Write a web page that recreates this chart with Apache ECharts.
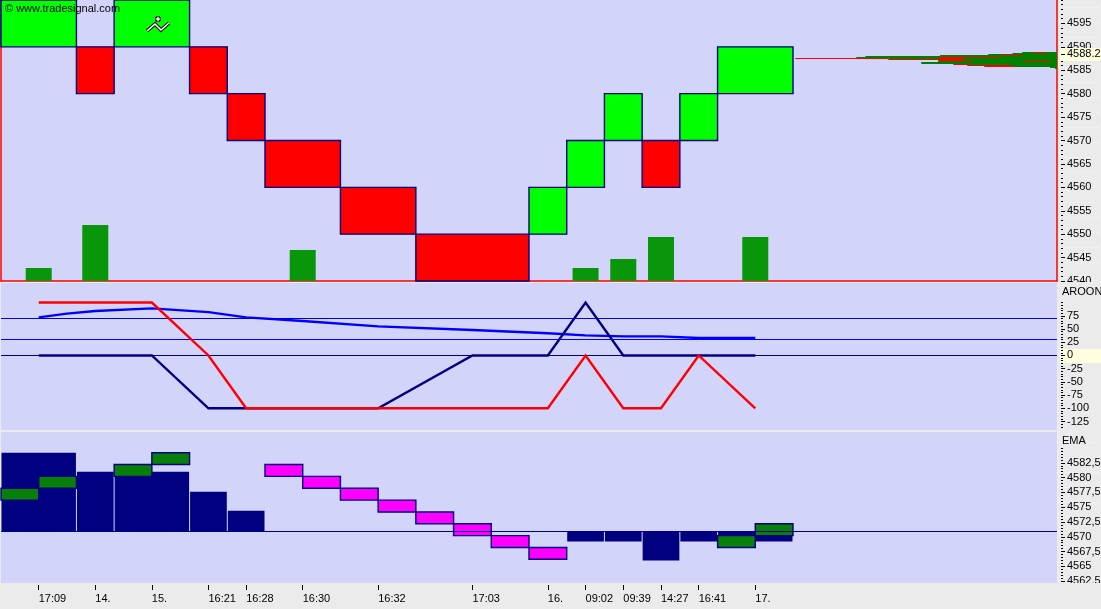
<!DOCTYPE html>
<html><head><meta charset="utf-8">
<script src="https://cdn.jsdelivr.net/npm/echarts@6/dist/echarts.min.js"></script>
<style>
html,body{margin:0;padding:0;width:1101px;height:609px;overflow:hidden;
background-color:#ebebeb;
background-image:url("data:image/svg+xml,%3Csvg xmlns='http://www.w3.org/2000/svg' width='4' height='15'%3E%3Crect x='1' y='7' width='1' height='1' fill='%23ffffff'/%3E%3C/svg%3E");}
#c{width:1101px;height:609px}
</style></head><body><div id="c"></div>
<script>
// --- x axis ticks (bar positions on the renko time axis)
const timeTickPos = [1,2.5,4,5.5,6.5,8,10,12.5,14.5,15.5,16.5,17.5,18.5,20];
const timeTickLabels = ['17:09','14.','15.','16:21','16:28','16:30','16:32','17:03','16.','09:02','09:39','14:27','16:41','17.'];
// --- renko price boxes
const renkoStart = [0,2,3,5,6,7,9,11,14,15,16,17,18,19];
const renkoEnd   = [2,3,5,6,7,9,11,14,15,16,17,18,19,21];
const renkoLow   = [4590,4580,4590,4580,4570,4560,4550,4540,4550,4560,4570,4560,4570,4580];
const renkoHigh  = [4600,4590,4600,4590,4580,4570,4560,4550,4560,4570,4580,4570,4580,4590];
const renkoUp    = [1,0,1,0,0,0,0,0,1,1,1,0,1,1];
// --- volume
const volPos = [1,2.5,8,15.5,16.5,17.5,20];
const volVal = [13,56,31,13,22,44,44];
// --- right-hand price profile
const profGreenStart = [27.08,26.82,26.18,24.9,22.92,22.68,23.53,24.85,24.4,25.62,26.76,27.82,27.95];
const profGreenHigh  = [4588.86,4588.64,4588.43,4588.15,4588.0,4587.79,4587.57,4587.14,4586.71,4586.35,4586.0,4585.75,4585.53];
const profGreenLow   = [4588.64,4588.43,4588.15,4588.0,4587.79,4587.57,4587.14,4586.71,4586.35,4586.0,4585.75,4585.53,4585.32];
const profRedStart = [21.06,23.53,24.85,24.9,26.5,27.37,27.11,24.85,25.25,26.07];
const profRedEnd   = [23.53,25.52,25.52,26.5,27.1,27.72,27.82,25.76,26.76,26.9];
const profRedPrice = [4587.51,4587.36,4587.72,4588.06,4588.22,4588.58,4586.87,4587.08,4586.44,4586.0];
const priceTicks = [4595,4590,4585,4580,4575,4570,4565,4560,4555,4550,4545,4540];
const lastPrice = '4588.2';
// --- AROON
const aroonTicks = [75,50,25,0,-25,-50,-75,-100,-125];
const aroonPos = [1,4,5.5,6.5,10,12.5,14.5,15.5,16.5,17.5,18.5,20];
const aroonUp  = [100,100,0,-100,-100,-100,-100,0,-100,-100,0,-100];
const aroonDn  = [0,0,-100,-100,-100,0,0,100,0,0,0,0];
const aroonMaPos = [1,1.75,2.5,4,5.5,6.5,8,10,12.5,14.5,15.5,16.5,17.5,18.5,20];
const aroonMa = [72,79,84,89,82,72,65,55,48,42,38,36,36,33,33];
const aroonLevels = [70,30];
// --- EMA panel
const emaTicks = [4582.5,4580,4577.5,4575,4572.5,4570,4567.5,4565,4562.5];
const emaBase = 4571;
const histStart = [0,2,3,5,6,15,16,17,18,19];
const histEnd   = [2,3,5,6,7,16,17,18,19,21];
const histVal   = [4584.2,4581,4581,4577.6,4574.4,4569.2,4569.2,4566,4569.2,4569.2];
const emaStart = [0,1,3,4,7,8,9,10,11,12,13,14,19,20];
const emaLow   = [4576.2,4578.2,4580.2,4582.2,4580.2,4578.2,4576.2,4574.2,4572.2,4570.2,4568.2,4566.2,4568.2,4570.2];
const emaUp    = [1,1,1,1,0,0,0,0,0,0,0,0,1,1];
const emaBoxSize = 2;

const FONT = '"Liberation Sans",Arial,sans-serif';
const FS = 11;
const PANEL = '#d2d4fa', NAVY = '#000080', RED = '#ff0000', INK = '#000';
const BAR_MAX = 28;

function rectItem(api, x0, x1, a, b, style, snap){
  const p0 = api.coord([x0, a]), p1 = api.coord([x1, b]);
  let top = Math.min(p0[1],p1[1]), h = Math.abs(p1[1]-p0[1]);
  if (snap){ const t=Math.round(top), e=Math.round(top+h); top=t; h=Math.max(1,e-t); }
  return {type:'rect', shape:{x:p0[0], y:top, width:p1[0]-p0[0], height:h}, style};
}
function custom(xi, yi, data, render, z){
  return {type:'custom', xAxisIndex:xi, yAxisIndex:yi, data, renderItem:render, silent:true, z:z||3, animation:false};
}
function dotValues(lo,hi,step){const r=[];for(let v=lo;v<=hi+1e-9;v+=step)r.push(v);return r;}
function yAxes(gi, min, max, ticks, fmt, dots, z){
  const base = {gridIndex:gi,type:'value',position:'right',min,max,offset:4,z,splitLine:{show:false},axisLine:{show:false}};
  return [
    Object.assign({},base,{axisTick:{show:false},
      axisLabel:{show:true,margin:6,color:INK,fontFamily:FONT,fontSize:FS,customValues:ticks,formatter:fmt,hideOverlap:false}}),
    Object.assign({},base,{axisLabel:{show:false},axisTick:{show:true,length:4,lineStyle:{color:INK,width:1},customValues:ticks}}),
    Object.assign({},base,{axisLabel:{show:false},axisTick:{show:true,length:2,lineStyle:{color:INK,width:1},customValues:dots}})
  ];
}
const frame = {type:'value',axisLine:{show:true,lineStyle:{color:RED,width:1.5}},axisTick:{show:false},axisLabel:{show:false},splitLine:{show:false}};
const yA = [].concat(
  yAxes(0,4540,4600,priceTicks,v=>String(v),dotValues(4540,4600,1),1),
  yAxes(1,-141,137,aroonTicks,v=>String(v),dotValues(-135,100,5),3),
  yAxes(2,4562.2,4587.7,emaTicks,v=>String(v).replace('.',','),dotValues(4562.5,4585,0.5),1),
  [Object.assign({},frame,{gridIndex:0,position:'left',min:0,max:281}),
   Object.assign({},frame,{gridIndex:0,position:'right',min:0,max:1})]
);
const Y_PRICE=0, Y_AROON=3, Y_EMA=6, Y_VOL=9;

const chart = echarts.init(document.getElementById('c'),null,{renderer:'canvas'});
const hx = {type:'value',min:0,max:BAR_MAX,axisTick:{show:false},axisLabel:{show:false},splitLine:{show:false}};
const renkoData = renkoStart.map((s,i)=>[s,renkoEnd[i],renkoLow[i],renkoHigh[i],renkoUp[i]]);
const histData = histStart.map((s,i)=>[s,histEnd[i],histVal[i]]);
const emaData = emaStart.map((s,i)=>[s,s+1,emaLow[i],emaLow[i]+emaBoxSize,emaUp[i]]);
const greenData = profGreenStart.map((s,i)=>[s,BAR_MAX,profGreenLow[i],profGreenHigh[i]]);
const redData = profRedStart.map((s,i)=>[s,profRedEnd[i],profRedPrice[i]]);

function hline(xi,yi,val,color){
  return {type:'line',xAxisIndex:xi,yAxisIndex:yi,data:[],silent:true,animation:false,z:2,
    markLine:{silent:true,symbol:'none',animation:false,label:{show:false},lineStyle:{color,width:1,type:'solid'},data:[{yAxis:val}]}};
}
function pairs(xs,ys){return xs.map((x,i)=>[x,ys[i]]);}
function lineS(xs,ys,color,z){
  return {type:'line',xAxisIndex:1,yAxisIndex:Y_AROON,data:pairs(xs,ys),symbol:'none',silent:true,animation:false,z,
    lineStyle:{color,width:2.4,join:'miter'}};
}
const icon = [[147,31],[155,24],[161,30],[169,23]];
const gridBase = {left:1,width:1056,show:true,backgroundColor:PANEL,borderWidth:0,outerBoundsMode:'none',containLabel:false};
chart.setOption({
  animation:false,
  backgroundColor:'transparent',
  grid:[
    Object.assign({},gridBase,{top:0,height:281}),
    Object.assign({},gridBase,{top:283,height:147}),
    Object.assign({},gridBase,{top:432,height:151})
  ],
  xAxis:[
    Object.assign({},hx,{gridIndex:0,axisLine:{show:true,onZero:false,lineStyle:{color:RED,width:1.5}}}),
    Object.assign({},hx,{gridIndex:1,axisLine:{show:false}}),
    {gridIndex:2,type:'value',min:0,max:BAR_MAX,position:'bottom',offset:2,z:3,splitLine:{show:false},axisLine:{show:false},
     axisTick:{show:true,length:5,lineStyle:{color:INK},customValues:timeTickPos},
     axisLabel:{show:true,margin:8,color:INK,fontFamily:FONT,fontSize:FS,align:'left',hideOverlap:false,
       customValues:timeTickPos,formatter:v=>timeTickLabels[timeTickPos.indexOf(v)]||''}}
  ],
  yAxis:yA,
  series:[
    // price panel
    {type:'bar',xAxisIndex:0,yAxisIndex:Y_VOL,data:pairs(volPos,volVal),barWidth:26,silent:true,animation:false,z:2,itemStyle:{color:'#0a960a'}},
    custom(0,Y_PRICE,renkoData,(p,api)=>rectItem(api,api.value(0),api.value(1),api.value(2),api.value(3),
        {fill:api.value(4)?'#00ff00':'#ff0000',stroke:NAVY,lineWidth:1.4}),3),
    custom(0,Y_PRICE,greenData,(p,api)=>rectItem(api,api.value(0),api.value(1),api.value(2),api.value(3),{fill:'#008000'},true),3),
    custom(0,Y_PRICE,redData,(p,api)=>{
        const a=api.coord([api.value(0),api.value(2)]),b=api.coord([api.value(1),api.value(2)]);
        const y=Math.round(a[1])+0.5;
        return {type:'line',shape:{x1:a[0],y1:y,x2:b[0],y2:y},style:{stroke:RED,lineWidth:1}};},4),
    // AROON panel
    hline(1,Y_AROON,aroonLevels[0],'#0000e0'),
    hline(1,Y_AROON,aroonLevels[1],'#0000ff'),
    hline(1,Y_AROON,0,NAVY),
    lineS(aroonMaPos,aroonMa,'#0000ff',3),
    lineS(aroonPos,aroonDn,NAVY,4),
    lineS(aroonPos,aroonUp,RED,5),
    // EMA panel
    hline(2,Y_EMA,emaBase,NAVY),
    custom(2,Y_EMA,histData,(p,api)=>{
        const it=rectItem(api,api.value(0),api.value(1),emaBase,api.value(2),{fill:NAVY});
        it.shape.x+=0.5; it.shape.width-=1; return it;},3),
    custom(2,Y_EMA,emaData,(p,api)=>rectItem(api,api.value(0),api.value(1),api.value(2),api.value(3),
        {fill:api.value(4)?'#087f08':'#ff00ff',stroke:NAVY,lineWidth:1.4}),4)
  ],
  graphic:{elements:[
    {type:'rect',z:2,silent:true,shape:{x:1058,y:282,width:43,height:150},style:{fill:'#ebebeb'}},
    {type:'rect',z:2,silent:true,shape:{x:0,y:583,width:1101,height:26},style:{fill:'#ebebeb'}},
    {type:'rect',z:2,silent:true,shape:{x:1060,y:48,width:41,height:13},style:{fill:'#ffffe0'}},
    {type:'rect',z:2,silent:true,shape:{x:1060,y:349,width:41,height:14},style:{fill:'#ffffe0'}},
    {type:'line',z:5,silent:true,shape:{x1:1061,y1:54.5,x2:1065,y2:54.5},style:{stroke:INK}},
    {type:'text',z:5,silent:true,x:1067,y:48.5,style:{text:lastPrice,font:FS+'px '+FONT,fill:INK}},
    {type:'text',z:5,silent:true,x:1062,y:286,style:{text:'AROON',font:FS+'px '+FONT,fill:INK}},
    {type:'text',z:5,silent:true,x:1062,y:435,style:{text:'EMA',font:FS+'px '+FONT,fill:INK}},
    {type:'text',z:6,silent:true,x:5,y:3.5,style:{text:'\u00a9 www.tradesignal.com',font:FS+'px '+FONT,fill:INK}},
    {type:'polyline',z:6,silent:true,shape:{points:icon},style:{stroke:'#000',lineWidth:3.5,fill:null}},
    {type:'polyline',z:7,silent:true,shape:{points:icon},style:{stroke:'#fff',lineWidth:1.6,fill:null}},
    {type:'polyline',z:6,silent:true,shape:{points:[[158,16],[158,22]]},style:{stroke:'#000',lineWidth:3.5,fill:null}},
    {type:'polyline',z:6,silent:true,shape:{points:[[155,19],[161,19]]},style:{stroke:'#000',lineWidth:3.5,fill:null}},
    {type:'polyline',z:7,silent:true,shape:{points:[[158,16.5],[158,21.5]]},style:{stroke:'#fff',lineWidth:1.4,fill:null}},
    {type:'polyline',z:7,silent:true,shape:{points:[[155.5,19],[160.5,19]]},style:{stroke:'#fff',lineWidth:1.4,fill:null}}
  ]}
});
</script></body></html>
